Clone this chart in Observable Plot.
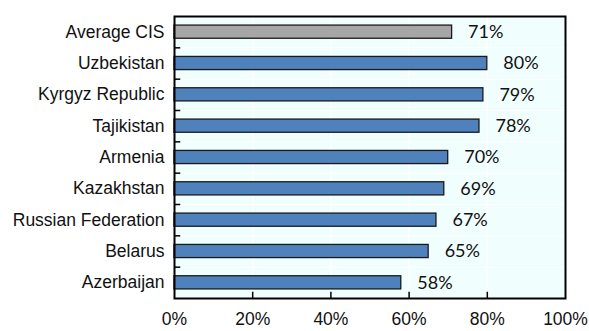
<!DOCTYPE html>
<html>
<head>
<meta charset="utf-8">
<script src="https://cdn.jsdelivr.net/npm/d3@7"></script>
<script src="https://cdn.jsdelivr.net/npm/@observablehq/plot@0.6"></script>
<style>
  html, body { margin: 0; padding: 0; background: #fff; }
  #chart svg { display: block; }
</style>
</head>
<body>
<div id="chart"></div>
<script>
// Countries, top to bottom, and their shares
const countries = ["Average CIS", "Uzbekistan", "Kyrgyz Republic", "Tajikistan", "Armenia",
                   "Kazakhstan", "Russian Federation", "Belarus", "Azerbaijan"];
const shares = [0.71, 0.80, 0.79, 0.78, 0.70, 0.69, 0.67, 0.65, 0.58];
const xTicks = [0, 0.2, 0.4, 0.6, 0.8, 1.0];

const rows = countries.map((name, i) => ({name, i, value: shares[i], avg: name === "Average CIS"}));
const rowBounds = d3.range(1, countries.length);
const pct = d => `${Math.round(d * 100)}%`;

const chart = Plot.plot({
  width: 589,
  height: 331,
  marginLeft: 174,
  marginRight: 24,
  marginTop: 16,
  marginBottom: 33,
  style: {fontFamily: "'Liberation Sans', Arial, sans-serif", background: "#fff"},
  x: {domain: [0, 1], axis: null, label: null},
  y: {domain: [0, countries.length], reverse: true, axis: null, label: null},
  marks: [
    // plot background and white grid
    Plot.rect([0], {x1: 0, x2: 1, y1: 0, y2: countries.length, fill: "#f0fefe"}),
    Plot.ruleX(xTicks.slice(1, -1), {stroke: "#fff", strokeWidth: 1.5}),
    Plot.ruleY(rowBounds, {stroke: "#fff", strokeWidth: 1}),
    // bars
    Plot.rectX(rows, {
      x1: 0, x2: "value",
      y1: d => d.i + 0.29, y2: d => d.i + 0.71,
      fill: d => d.avg ? "#a6a6a6" : "#4f81bd",
      stroke: "#1a1a1a", strokeWidth: 1.3
    }),
    // value labels
    Plot.text(rows, {
      x: "value", y: d => d.i + 0.5, text: d => pct(d.value),
      dx: 16, textAnchor: "start", fontSize: 18, fill: "#111",
      fontFamily: "Lato, 'Open Sans', sans-serif"
    }),
    // inward ticks
    Plot.ruleY(rowBounds, {y: d => d, x1: 0, x2: 0.016, stroke: "#000", strokeWidth: 1.5}),
    Plot.ruleX(xTicks.slice(1, -1), {x: d => d, y1: countries.length, y2: countries.length - 0.2, stroke: "#000", strokeWidth: 1.5}),
    // frame
    Plot.frame({stroke: "#000", strokeWidth: 2}),
    // category labels
    Plot.text(rows, {
      x: 0, y: d => d.i + 0.5, text: "name",
      dx: -10, textAnchor: "end", fontSize: 17.5, fill: "#111"
    }),
    // x tick labels
    Plot.axisX(xTicks, {anchor: "bottom", label: null, tickSize: 0, tickPadding: 14, tickFormat: pct, fontSize: 17.5, fill: "#111"})
  ]
});

document.getElementById("chart").appendChild(chart);
</script>
</body>
</html>
